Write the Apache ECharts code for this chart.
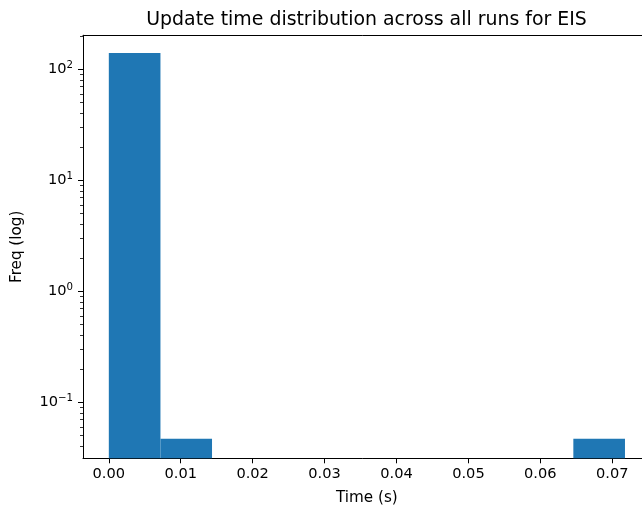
<!DOCTYPE html>
<html><head><meta charset="utf-8">
<script src="https://cdn.jsdelivr.net/npm/echarts@6/dist/echarts.min.js"></script>
<style>html,body{margin:0;padding:0;background:#fff}#c{width:642px;height:510px}</style>
</head><body><div id="c"></div>
<script>
const binEdges = [0, 0.00718, 0.01435, 0.02153, 0.02871, 0.03589, 0.04306, 0.05024, 0.05742, 0.06459, 0.07177];
const binValues = [140, 0.047, 0, 0, 0, 0, 0, 0, 0, 0.047];
const xTicks = [0, 0.01, 0.02, 0.03, 0.04, 0.05, 0.06, 0.07];
const yMajorTicks = [0.1, 1, 10, 100];
const yMinorTicks = [0.04,0.05,0.06,0.07,0.08,0.09,0.2,0.3,0.4,0.5,0.6,0.7,0.8,0.9,2,3,4,5,6,7,8,9,20,30,40,50,60,70,80,90,200];
const xMin = -0.00359, xMax = 0.07536, yMin = 0.0313, yMax = 202.3;

const F = 'DejaVu Sans';
const FS = 14.6;
const bars = binValues.map((v, i) => [binEdges[i], binEdges[i+1], v]).filter(d => d[2] > 0);
const chart = echarts.init(document.getElementById('c'), null, {renderer:'canvas'});
chart.setOption({
  animation: false,
  backgroundColor: '#fff',
  title: {text: 'Update time distribution across all runs for EIS', left: 361.5, top: 6, textAlign: 'center',
    textStyle: {fontFamily: F, fontSize: 18.9, fontWeight: 'normal', color: '#000'}},
  grid: {left: 83, top: 35.3, right: -8.8, bottom: 51.7, outerBoundsMode: 'none', containLabel: false, show: false},
  xAxis: [{type: 'value', min: xMin, max: xMax, splitLine: {show: false},
    name: 'Time (s)', nameLocation: 'middle', nameGap: 32,
    nameTextStyle: {fontFamily: F, fontSize: 15.2, color: '#000'},
    axisLine: {show: true, onZero: false, lineStyle: {color: '#000', width: 1}},
    axisTick: {show: true, length: 5, lineStyle: {color: '#000'}, customValues: xTicks},
    axisLabel: {fontFamily: F, fontSize: FS, color: '#000', margin: 8, customValues: xTicks,
      formatter: v => v.toFixed(2)}},
   {type: 'value', position: 'top', min: xMin, max: xMax, splitLine: {show: false},
    axisLine: {show: true, onZero: false, lineStyle: {color: '#000', width: 1}},
    axisTick: {show: false}, axisLabel: {show: false}}],
  yAxis: [{type: 'log', logBase: 10, min: yMin, max: yMax, splitLine: {show: false},
    name: 'Freq (log)', nameLocation: 'middle', nameGap: 58,
    nameTextStyle: {fontFamily: F, fontSize: 15.2, color: '#000'},
    axisLine: {show: true, onZero: false, lineStyle: {color: '#000', width: 1}},
    axisTick: {show: true, length: 5, lineStyle: {color: '#000'}, customValues: yMajorTicks},
    axisLabel: {fontFamily: F, fontSize: FS, color: '#000', margin: 10, customValues: yMajorTicks,
      formatter: v => { const e = Math.round(Math.log10(v)); return '{b|10}{s|' + (e < 0 ? '\u2212' + (-e) : e) + '}'; },
      rich: {b: {fontFamily: F, fontSize: FS, color: '#000'}, s: {fontFamily: F, fontSize: 10.2, color: '#000', padding: [0,0,8,0]}}}},
   {type: 'log', logBase: 10, min: yMin, max: yMax, position: 'left', splitLine: {show: false},
    axisLine: {show: true, onZero: false, lineStyle: {color: '#000', width: 1}}, axisLabel: {show: false},
    axisTick: {show: true, length: 3, lineStyle: {color: '#000', width: 0.8}, customValues: yMinorTicks}}],
  series: [{type: 'custom', data: bars, encode: {x: [0,1], y: 2},
    renderItem: (params, api) => {
      const p0 = api.coord([api.value(0), api.value(2)]);
      const p1 = api.coord([api.value(1), yMin]);
      return {type: 'rect', shape: {x: p0[0], y: p0[1], width: p1[0]-p0[0], height: p1[1]-p0[1]},
        style: {fill: '#1f77b4'}};
    }}]
});
</script></body></html>
